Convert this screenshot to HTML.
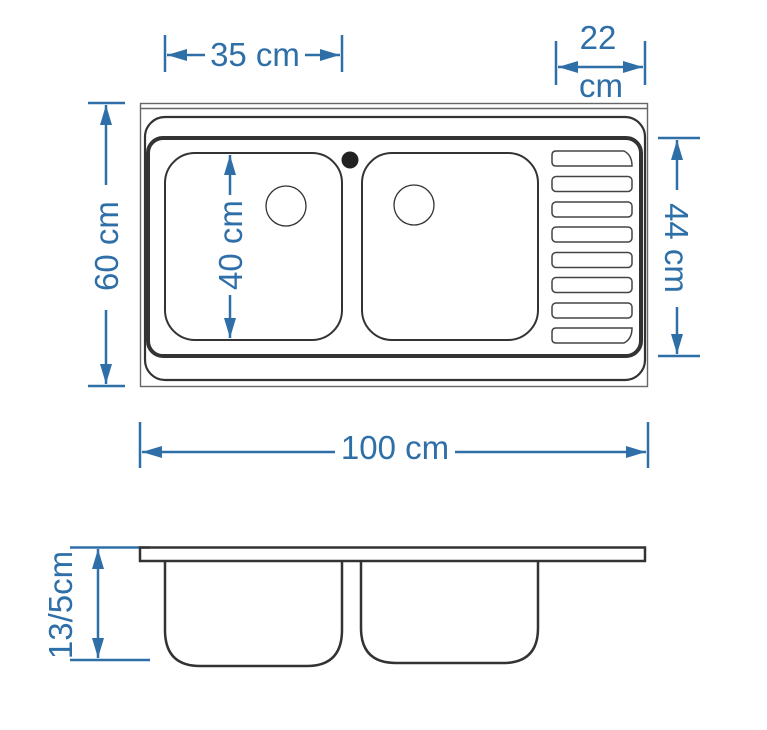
<!DOCTYPE html>
<html><head><meta charset="utf-8"><style>html,body{margin:0;padding:0;background:#fff}svg{display:block}text{font-family:"Liberation Sans",Arial,sans-serif;fill:#2f6fa8}</style></head><body>
<svg width="767" height="730" viewBox="0 0 767 730" xmlns="http://www.w3.org/2000/svg">
<defs>
<marker id="a" viewBox="0 0 20 12" refX="20" refY="6" markerWidth="20" markerHeight="12" orient="auto-start-reverse" markerUnits="userSpaceOnUse"><path d="M0,0L20,6L0,12z" fill="#2f6fa8"/></marker>
</defs>
<g fill="none">
<rect x="140.5" y="103.5" width="507" height="283" stroke="#666" stroke-width="1.4"/>
<line x1="140" y1="108.5" x2="648" y2="108.5" stroke="#666" stroke-width="1.4"/>
<rect x="145" y="117" width="500" height="263" rx="20" stroke="#333" stroke-width="2.2"/>
<rect x="148" y="138" width="493" height="218" rx="15" stroke="#333" stroke-width="4"/>
<rect x="165" y="153" width="177" height="187" rx="30" stroke="#333" stroke-width="2"/>
<rect x="362" y="153" width="176" height="187" rx="30" stroke="#333" stroke-width="2"/>
<circle cx="286" cy="206" r="20" stroke="#333" stroke-width="1.3"/>
<circle cx="414" cy="205" r="20" stroke="#333" stroke-width="1.3"/>
<g stroke="#444" stroke-width="1.5">
<path d="M556,151H624Q632,155 632,166H556Q552,166 552,162V155Q552,151 556,151z"/>
<rect x="552" y="176.5" width="80" height="15" rx="4"/>
<rect x="552" y="202" width="80" height="15" rx="4"/>
<rect x="552" y="227" width="80" height="15" rx="4"/>
<rect x="552" y="252.5" width="80" height="15" rx="4"/>
<rect x="552" y="277.5" width="80" height="15" rx="4"/>
<rect x="552" y="303" width="80" height="15" rx="4"/>
<path d="M556,328H632Q632,339 624,343H556Q552,343 552,339V332Q552,328 556,328z"/>
</g>
</g>
<circle cx="350" cy="160" r="8.5" fill="#222"/>
<g stroke="#2f6fa8" stroke-width="2.5" fill="none">
<line x1="165" y1="35" x2="165" y2="72"/><line x1="342" y1="35" x2="342" y2="72"/>
<line x1="167" y1="55" x2="205" y2="55" marker-start="url(#a)"/><line x1="305" y1="55" x2="340" y2="55" marker-end="url(#a)"/>
<line x1="556" y1="41" x2="556" y2="85"/><line x1="645" y1="41" x2="645" y2="85"/>
<line x1="558" y1="67" x2="643" y2="67" marker-start="url(#a)" marker-end="url(#a)"/>
<line x1="658" y1="138" x2="700" y2="138"/><line x1="658" y1="356" x2="700" y2="356"/>
<line x1="677" y1="140" x2="677" y2="190" marker-start="url(#a)"/><line x1="677" y1="307" x2="677" y2="354" marker-end="url(#a)"/>
<line x1="88" y1="103" x2="125" y2="103"/><line x1="88" y1="386" x2="125" y2="386"/>
<line x1="106" y1="105" x2="106" y2="185" marker-start="url(#a)"/><line x1="106" y1="310" x2="106" y2="384" marker-end="url(#a)"/>
<line x1="230" y1="155" x2="230" y2="195" marker-start="url(#a)"/><line x1="230" y1="295" x2="230" y2="338" marker-end="url(#a)"/>
<line x1="140" y1="422" x2="140" y2="468"/><line x1="648" y1="422" x2="648" y2="468"/>
<line x1="142" y1="452" x2="335" y2="452" marker-start="url(#a)"/><line x1="455" y1="452" x2="646" y2="452" marker-end="url(#a)"/>
<line x1="70" y1="547.5" x2="150" y2="547.5"/><line x1="70" y1="660" x2="150" y2="660"/>
<line x1="98" y1="549" x2="98" y2="658" marker-start="url(#a)" marker-end="url(#a)"/>
</g>
<g font-size="33">
<text x="255" y="66" text-anchor="middle">35 cm</text>
<text x="598" y="49" text-anchor="middle">22</text>
<text x="601" y="97" text-anchor="middle">cm</text>
<text x="395" y="459" text-anchor="middle">100 cm</text>
<text transform="translate(118,246) rotate(-90)" text-anchor="middle">60 cm</text>
<text transform="translate(242,245) rotate(-90)" text-anchor="middle">40 cm</text>
<text transform="translate(665,248) rotate(90)" text-anchor="middle">44 cm</text>
<text transform="translate(72,605) rotate(-90)" text-anchor="middle">13/5cm</text>
</g>
<g fill="none" stroke="#333" stroke-width="2.5">
<rect x="140" y="547.5" width="505" height="13.5"/>
<path d="M165,561V630Q165,666 200,666H307Q342,666 342,630V561"/>
<path d="M361,561V628Q361,663 396,663H503Q538,663 538,628V561"/>
</g>
</svg>
</body></html>
